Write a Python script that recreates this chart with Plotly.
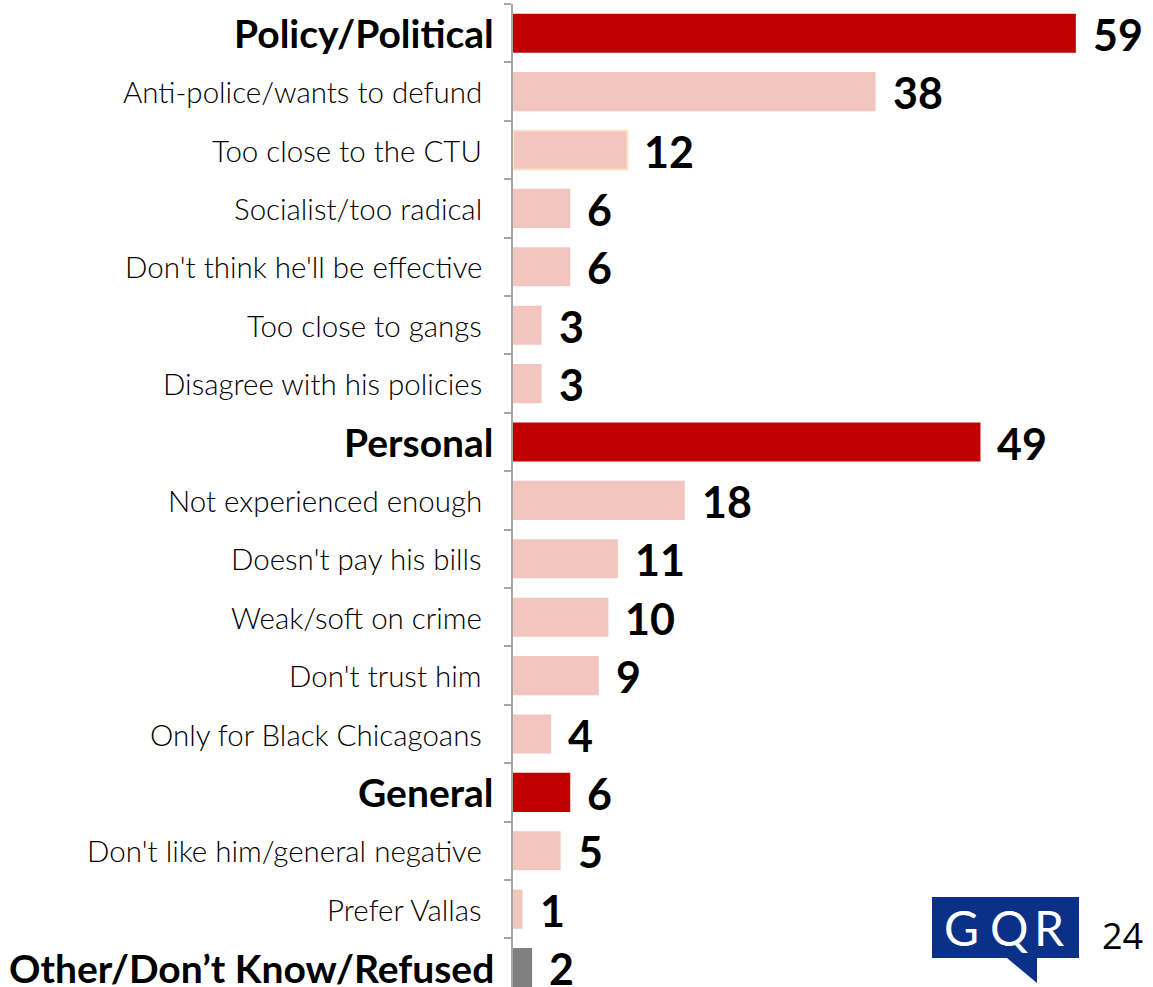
import plotly.graph_objects as go

categories = [
    "Policy/Political", "Anti-police/wants to defund", "Too close to the CTU",
    "Socialist/too radical", "Don't think he'll be effective", "Too close to gangs",
    "Disagree with his policies", "Personal", "Not experienced enough",
    "Doesn't pay his bills", "Weak/soft on crime", "Don't trust him",
    "Only for Black Chicagoans", "General", "Don't like him/general negative",
    "Prefer Vallas", "Other/Don\u2019t Know/Refused",
]
values = [59, 38, 12, 6, 6, 3, 3, 49, 18, 11, 10, 9, 4, 6, 5, 1, 2]
kinds = ["head", "sub", "sub", "sub", "sub", "sub", "sub", "head", "sub", "sub",
         "sub", "sub", "sub", "head", "sub", "sub", "other"]
page_number = "24"
logo_letters = ["G", "Q", "R"]

color_map = {"head": "#C00000", "sub": "#F2C6BE", "other": "#808080"}
colors = [color_map[k] for k in kinds]
line_colors = ["#FCE4C4" if c == "Too close to the CTU" else "rgba(0,0,0,0)" for c in categories]

idx = list(range(len(categories)))

W, H = 1153, 987
L, T = 513, 4
PW, PH = W - L, H - T
band = 58.4
n_visible = PH / band

fig = go.Figure()
fig.add_trace(go.Bar(
    x=values, y=idx, orientation="h",
    marker=dict(color=colors, line=dict(color=line_colors, width=2)),
    width=0.67, hoverinfo="skip", cliponaxis=False,
))

FONT = "Lato, Open Sans, sans-serif"
for i, (c, v, k) in enumerate(zip(categories, values, kinds)):
    bold = k != "sub"
    fig.add_annotation(
        x=0, y=i, xref="x", yref="y", text=f"<b>{c}</b>" if bold else c,
        showarrow=False, xanchor="right", yanchor="middle",
        xshift=-17 if bold else -29,
        font=dict(family=FONT, size=39 if bold else 29.5,
                  color="#000000", weight=700 if bold else 300),
    )
    fig.add_annotation(
        x=v, y=i, xref="x", yref="y", text=f"<b>{v}</b>",
        showarrow=False, xanchor="left", yanchor="middle", xshift=15, yshift=-1,
        font=dict(family=FONT, size=43, color="#000000"),
    )


def px(x):
    return (x - L) / PW


def py(y):
    return 1 - (y - T) / PH


# page number
fig.add_annotation(x=px(1122), y=py(935), xref="paper", yref="paper", text=page_number,
                   showarrow=False, xanchor="center", yanchor="middle",
                   font=dict(family="Open Sans, sans-serif", size=36, color="#000000"))

# GQR logo (speech bubble)
fig.add_shape(type="path", xref="paper", yref="paper",
              path=f"M {px(932)},{py(897)} L {px(1079)},{py(897)} L {px(1079)},{py(958)} "
                   f"L {px(1037)},{py(958)} L {px(1037)},{py(983)} L {px(1007)},{py(958)} "
                   f"L {px(932)},{py(958)} Z",
              fillcolor="#0A3187", line=dict(width=0), layer="above")
for letter, cx in zip(logo_letters, [961, 1009, 1049]):
    fig.add_annotation(x=px(cx), y=py(927), xref="paper", yref="paper", text=letter,
                       showarrow=False, xanchor="center", yanchor="middle",
                       font=dict(family="Lato, sans-serif", size=48, color="#FFFFFF"))

fig.update_layout(
    width=W, height=H,
    margin=dict(l=L, r=0, t=T, b=0, pad=0),
    plot_bgcolor="#FFFFFF", paper_bgcolor="#FFFFFF",
    showlegend=False,
    xaxis=dict(range=[0, PW / 9.54], visible=False, fixedrange=True),
    yaxis=dict(
        range=[-0.5 + n_visible, -0.5], autorange=False, fixedrange=True,
        tickmode="array", tickvals=[i + 0.5 for i in idx] + [-0.5],
        ticktext=["" for _ in idx] + [""],
        ticks="outside", ticklen=7, tickcolor="#A6A6A6", tickwidth=1.5,
        showline=True, linecolor="#A6A6A6", linewidth=1.5,
        showgrid=False, zeroline=False, showticklabels=False,
    ),
)

fig.write_html("out.html", config={"displayModeBar": False},
               post_script="document.body.style.margin='0';document.body.style.overflow='hidden';")
